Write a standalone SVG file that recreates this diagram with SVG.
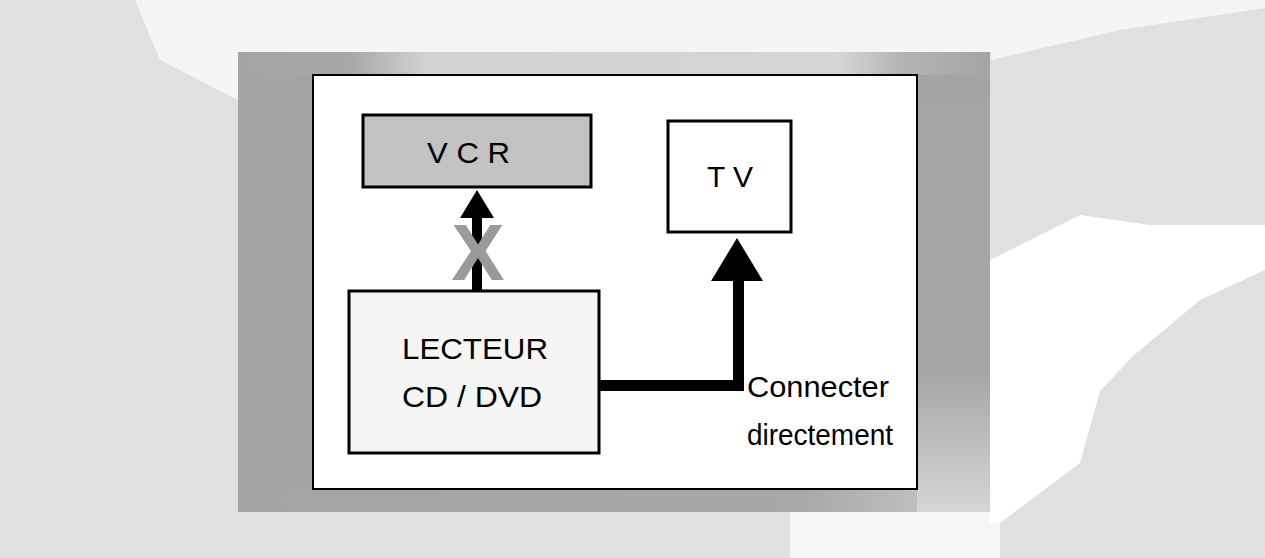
<svg xmlns="http://www.w3.org/2000/svg" width="1265" height="558" viewBox="0 0 1265 558">
<defs>
<style>
.box{stroke:#000;stroke-width:3;}
.lbl{font-family:"Liberation Sans",Arial,sans-serif;font-size:30px;fill:#000;}
.note{font-family:"Liberation Sans",Arial,sans-serif;font-size:29px;fill:#000;}
.arrow{fill:#000;}
</style>
<linearGradient id="bandTop" x1="238" y1="0" x2="990" y2="0" gradientUnits="userSpaceOnUse">
<stop offset="0" stop-color="#a4a4a4"/>
<stop offset="0.15" stop-color="#a8a8a8"/>
<stop offset="0.25" stop-color="#d2d2d2"/>
<stop offset="0.8" stop-color="#d6d6d6"/>
<stop offset="0.88" stop-color="#b4b4b4"/>
<stop offset="1" stop-color="#a4a4a4"/>
</linearGradient>
<linearGradient id="bandRight" x1="0" y1="52" x2="0" y2="512" gradientUnits="userSpaceOnUse">
<stop offset="0" stop-color="#a4a4a4"/>
<stop offset="0.7" stop-color="#a6a6a6"/>
<stop offset="1" stop-color="#d6d6d6"/>
</linearGradient>
<linearGradient id="bandBottom" x1="238" y1="0" x2="990" y2="0" gradientUnits="userSpaceOnUse">
<stop offset="0" stop-color="#a4a4a4"/>
<stop offset="0.75" stop-color="#a8a8a8"/>
<stop offset="1" stop-color="#cccccc"/>
</linearGradient>
</defs>
<g id="background">
<rect x="0" y="0" width="1265" height="558" fill="#e0e0e0"/>
<polygon points="135,0 1265,0 1265,8 1120,30 991,60 991,52 238,52 238,100 160,60" fill="#f5f5f5"/>
<polygon points="990,260 1080,215 1150,225 1265,225 1265,270 1200,300 1133,356 1100,391 1080,463 1000,523 990,523" fill="#ffffff"/>
<polygon points="790,512 990,512 990,523 1000,523 1000,558 790,558" fill="#f6f6f6"/>
</g>
<g id="frame">
<rect x="238" y="52" width="752" height="460" fill="#a4a4a4"/>
<rect x="917" y="52" width="73" height="460" fill="url(#bandRight)"/>
<rect x="238" y="52" width="752" height="23" fill="url(#bandTop)"/>
<rect x="238" y="489" width="679" height="23" fill="url(#bandBottom)"/>
<rect x="313" y="75" width="604" height="414" fill="#ffffff" stroke="#000" stroke-width="2"/>
</g>
<g id="connectors">
<rect class="arrow" x="472" y="216" width="10" height="76"/>
<polygon class="arrow" points="477,190 460,218 494,218"/>
<text x="478" y="280" text-anchor="middle" font-family="Liberation Sans,Arial,sans-serif" font-weight="bold" font-size="80" fill="#9a9a9a">X</text>
<path d="M598,385.5 H738.5 V278" fill="none" stroke="#000" stroke-width="11"/>
<polygon class="arrow" points="737,238 711,281 763,281"/>
</g>
<g id="vcr">
<rect class="box" x="363" y="115" width="228" height="72" fill="#c2c2c2"/>
<text class="lbl" x="427" y="163" textLength="83" lengthAdjust="spacingAndGlyphs">V C R</text>
</g>
<g id="tv">
<rect class="box" x="668" y="121" width="123" height="111" fill="#ffffff" stroke-width="2.5"/>
<text class="lbl" x="707" y="187">T V</text>
</g>
<g id="lecteur">
<rect class="box" x="349" y="291" width="250" height="162" fill="#f5f5f5"/>
<text class="lbl" x="402" y="359" textLength="146" lengthAdjust="spacingAndGlyphs">LECTEUR</text>
<text class="lbl" x="402" y="407" textLength="140" lengthAdjust="spacingAndGlyphs">CD / DVD</text>
</g>
<g id="label">
<text class="note" x="747" y="397" textLength="142" lengthAdjust="spacingAndGlyphs">Connecter</text>
<text class="note" x="747" y="445" textLength="146" lengthAdjust="spacingAndGlyphs">directement</text>
</g>
</svg>
